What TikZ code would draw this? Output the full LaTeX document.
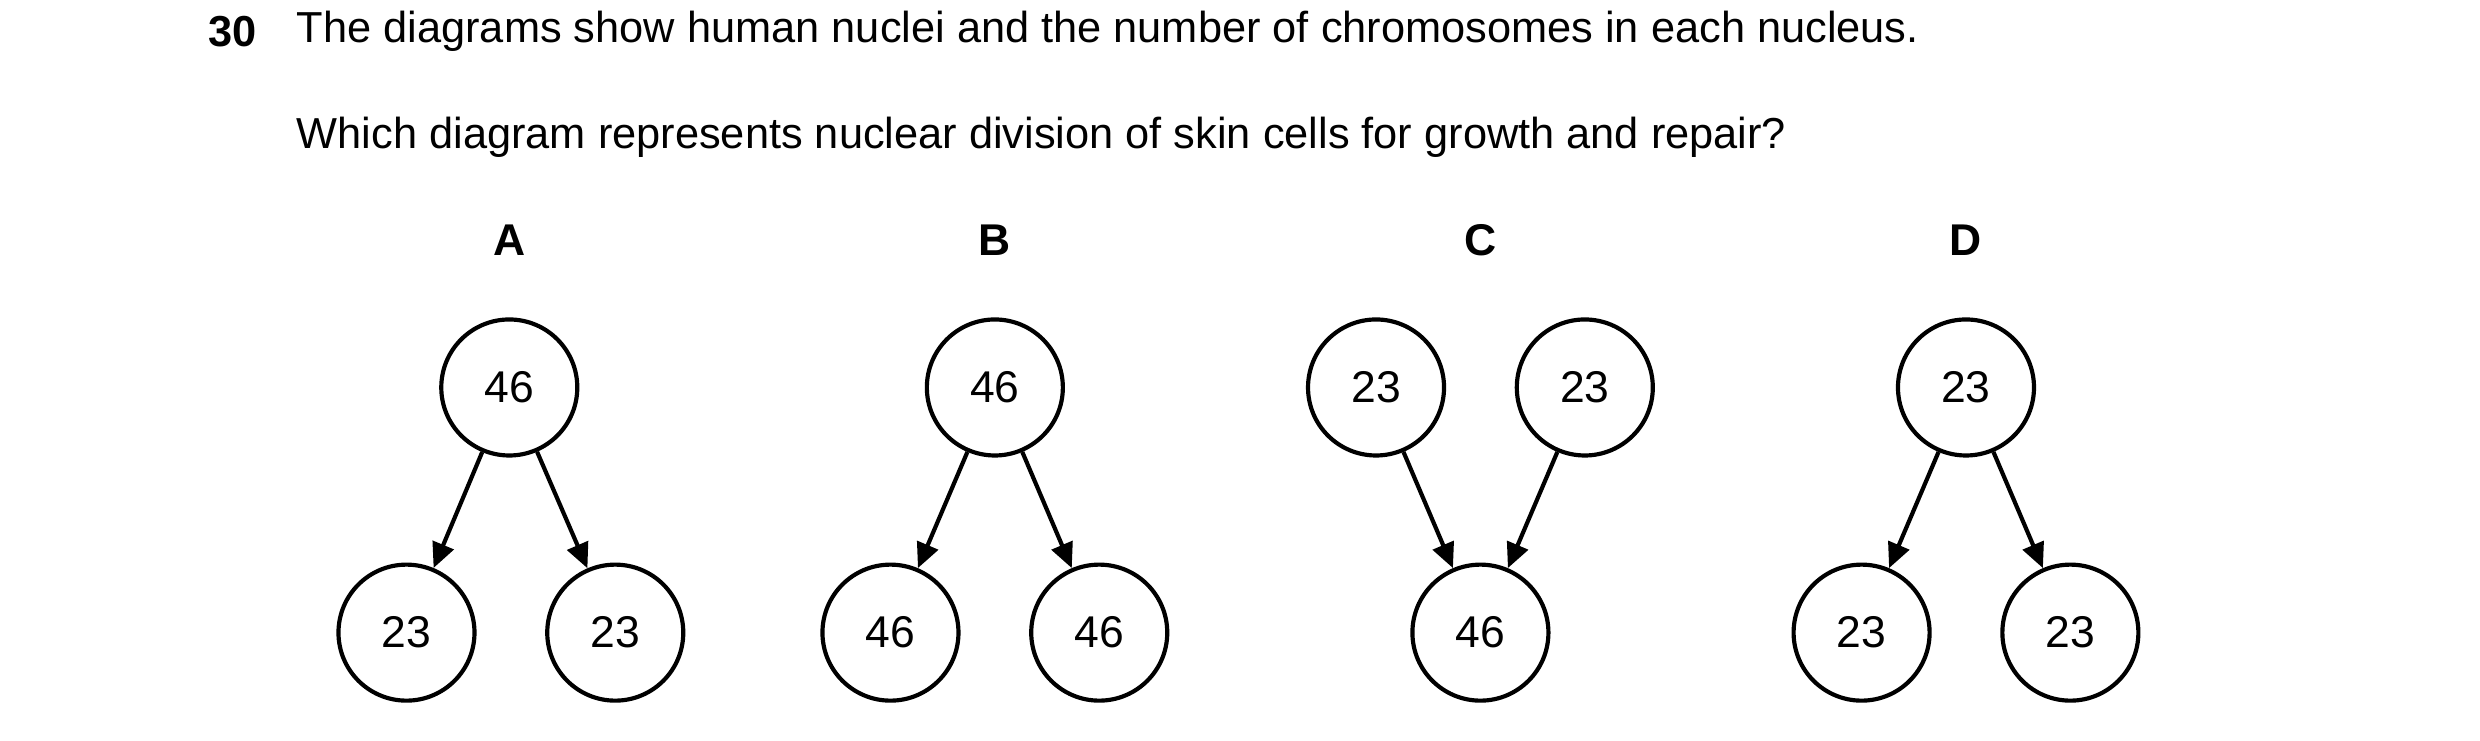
\documentclass[tikz,border=0pt]{standalone}
\usepackage{fontspec}
\setmainfont{Liberation Sans}
\usetikzlibrary{arrows.meta}

\tikzset{
	nucleus/.style={draw,circle,line width=0.75pt,minimum size=0.86cm,inner sep=0pt,font=\fontsize{8}{9}\selectfont},
	link/.style={line width=0.75pt,-{Triangle[length=4.5pt,width=4pt]}},
	letter/.style={font=\fontsize{8}{9}\selectfont\bfseries},
	txt/.style={anchor=west,inner sep=0pt,font=\fontsize{7.8}{9}\selectfont}
}

\begin{document}
\begin{tikzpicture}
		\useasboundingbox (0,0) rectangle (15.68,-4.684);
		
		\node[txt,font=\fontsize{7.8}{9}\selectfont\bfseries] (num) at (1.31,-0.2){30};
		\node[txt] (q1) at (1.87,-0.2){The diagrams show human nuclei and the number of chromosomes in each nucleus.};
		\node[txt] (q2) at (1.87,-0.87){Which diagram represents nuclear division of skin cells for growth and repair?};
		
		%A
		\node[letter] (la) at (3.22,-1.52){A};
		\node[nucleus] (a0) at (3.22,-2.45){46};
		\node[nucleus] (a1) at (2.57,-4.00){23};
		\node[nucleus] (a2) at (3.89,-4.00){23};
		\draw[link] (a0) -- (a1);
		\draw[link] (a0) -- (a2);
		
		%B
		\node[letter] (lb) at (6.29,-1.52){B};
		\node[nucleus] (b0) at (6.29,-2.45){46};
		\node[nucleus] (b1) at (5.63,-4.00){46};
		\node[nucleus] (b2) at (6.95,-4.00){46};
		\draw[link] (b0) -- (b1);
		\draw[link] (b0) -- (b2);
		
		%C
		\node[letter] (lc) at (9.36,-1.52){C};
		\node[nucleus] (c1) at (8.70,-2.45){23};
		\node[nucleus] (c2) at (10.02,-2.45){23};
		\node[nucleus] (c0) at (9.36,-4.00){46};
		\draw[link] (c1) -- (c0);
		\draw[link] (c2) -- (c0);
		
		%D
		\node[letter] (ld) at (12.43,-1.52){D};
		\node[nucleus] (d0) at (12.43,-2.45){23};
		\node[nucleus] (d1) at (11.77,-4.00){23};
		\node[nucleus] (d2) at (13.09,-4.00){23};
		\draw[link] (d0) -- (d1);
		\draw[link] (d0) -- (d2);
		
	\end{tikzpicture}
\end{document}
